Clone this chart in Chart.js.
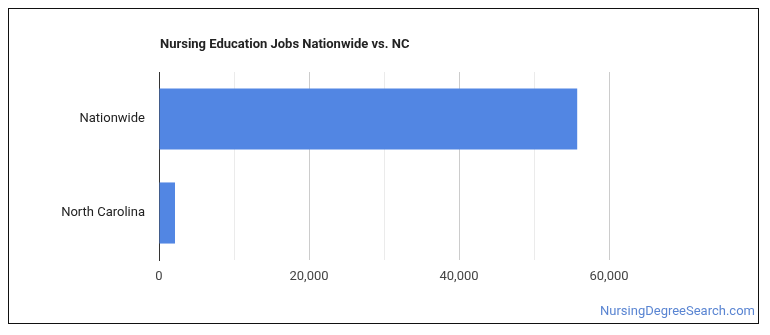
<!DOCTYPE html>
<html>
<head>
<meta charset="utf-8">
<script src="https://cdn.jsdelivr.net/npm/chart.js@4.4.0/dist/chart.umd.min.js"></script>
<style>
    body { margin: 0; background: #fff; }
    #wrap { position: relative; width: 770px; height: 335px; }
    #frame {
        position: absolute; left: 8px; top: 8px;
        width: 749px; height: 314px;
        border: 1px solid #111;
        box-sizing: content-box;
        pointer-events: none;
    }
    #credit {
        position: absolute; right: 15px; top: 303px;
        font: 13px Roboto, sans-serif; color: #5a85d2;
    }
</style>
</head>
<body>
<div id="wrap">
    <canvas id="jobsChart" width="770" height="335"></canvas>
    <div id="frame"></div>
    <div id="credit">NursingDegreeSearch.com</div>
</div>
<script>
const chartTitle = "Nursing Education Jobs Nationwide vs. NC";
const categories = ["Nationwide", "North Carolina"];
const jobCounts = [55760, 2130];
const axisMin = 0;
const axisMax = 70000;
const axisStep = 10000;

//draws the title lined up with the plot's left edge
const titlePlugin = {
    id: "leftTitle",
    afterDraw(chart) {
        const ctx = chart.ctx;
        ctx.save();
        ctx.font = "bold 13px Roboto, sans-serif";
        ctx.fillStyle = "#222";
        ctx.textBaseline = "middle";
        ctx.fillText(chartTitle, chart.chartArea.left + 1, 45);
        ctx.restore();
    },
};

const ctx = document.getElementById("jobsChart").getContext("2d");
const myChart = new Chart(ctx, {
    type: "bar",
    data: {
        labels: categories,
        datasets: [
            {
                data: jobCounts,
                backgroundColor: "#5286e3",
                categoryPercentage: 1,
                barPercentage: 0.65,
            },
        ],
    },
    options: {
        indexAxis: "y",
        responsive: false,
        animation: false,
        layout: { padding: { left: 0, top: 72, right: 86, bottom: 0 } },
        plugins: {
            legend: { display: false },
            tooltip: { enabled: false },
        },
        scales: {
            x: {
                min: axisMin,
                max: axisMax,
                afterFit: (scale) => { scale.height = 75; },
                ticks: {
                    stepSize: axisStep,
                    padding: 9,
                    color: "#444",
                    font: { family: "Roboto", size: 13 },
                    callback: (value) => value % 20000 === 0 ? value.toLocaleString("en-US") : "",
                },
                grid: {
                    drawTicks: false,
                    color: (c) => {
                        const v = c.tick.value;
                        if (v === axisMin || v === axisMax) return "rgba(0,0,0,0)";
                        return v % 20000 === 0 ? "#cccccc" : "#ebebeb";
                    },
                },
                border: { display: false },
            },
            y: {
                afterFit: (scale) => { scale.width = 159; },
                ticks: {
                    padding: 14,
                    color: "#222",
                    font: { family: "Roboto", size: 13 },
                },
                grid: { display: false, drawTicks: false },
                border: { display: true, color: "#333", width: 1 },
            },
        },
    },
    plugins: [titlePlugin],
});
</script>
</body>
</html>
